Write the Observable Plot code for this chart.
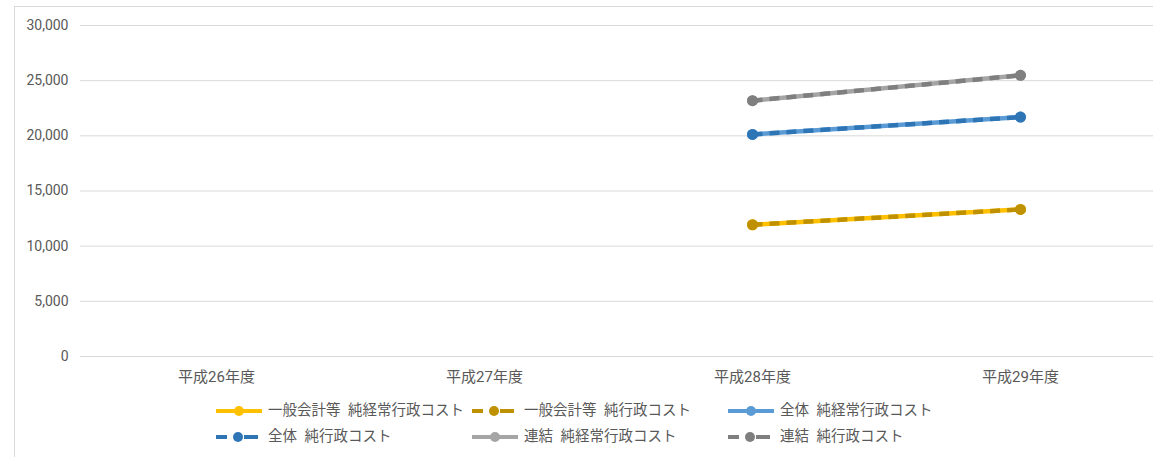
<!DOCTYPE html>
<html>
<head>
<meta charset="utf-8">
<script src="https://cdn.jsdelivr.net/npm/d3@7"></script>
<script src="https://cdn.jsdelivr.net/npm/@observablehq/plot@0.6"></script>
<style>
  html, body { margin: 0; padding: 0; background: #fff; }
  body { width: 1153px; height: 457px; position: relative; overflow: hidden;
         font-family: Roboto, "Noto Sans CJK JP", sans-serif; color: #595959; }
  #frame { position: absolute; left: 14px; top: 6px; right: -2px; bottom: -2px;
           border-left: 1px solid #d9d9d9; border-top: 1px solid #d9d9d9; }
  #chart { position: absolute; left: 0; top: 0; }
  .item { position: absolute; height: 20px; display: flex; align-items: center; font-size: 14.5px; white-space: nowrap; word-spacing: 4px; }
  .item svg { display: block; }
  .item span { position: absolute; left: 52px; top: 0; line-height: 20px; }
</style>
</head>
<body>
<div id="frame"></div>
<div id="chart"></div>
<div id="legend"></div>
<script>
const years = ["平成26年度", "平成27年度", "平成28年度", "平成29年度"];
const seriesNames = [
  "一般会計等 純経常行政コスト",
  "一般会計等 純行政コスト",
  "全体 純経常行政コスト",
  "全体 純行政コスト",
  "連結 純経常行政コスト",
  "連結 純行政コスト"
];
const generalNetOrdinary = [null, null, 11940, 13330];
const generalNet = [null, null, 11940, 13330];
const wholeNetOrdinary = [null, null, 20130, 21700];
const wholeNet = [null, null, 20130, 21700];
const consolidatedNetOrdinary = [null, null, 23190, 25480];
const consolidatedNet = [null, null, 23190, 25480];
const yTicks = [0, 5000, 10000, 15000, 20000, 25000, 30000];

const seriesValues = [generalNetOrdinary, generalNet, wholeNetOrdinary, wholeNet, consolidatedNetOrdinary, consolidatedNet];
const colors = ["#FFC000", "#BF9000", "#5B9BD5", "#2E75B6", "#A5A5A5", "#7F7F7F"];
const dashed = [false, true, false, true, false, true];

const marks = [Plot.ruleY(yTicks, {stroke: "#d9d9d9", strokeWidth: 1})];
seriesValues.forEach((vals, i) => {
  const rows = years.map((y, j) => ({year: y, value: vals[j], series: seriesNames[i]})).filter(d => d.value != null);
  marks.push(Plot.line(rows, {x: "year", y: "value", stroke: colors[i], strokeWidth: 4.5,
    strokeDasharray: dashed[i] ? "10,7" : null, strokeLinecap: "butt"}));
  marks.push(Plot.dot(rows, {x: "year", y: "value", r: 5.5, fill: colors[i], stroke: "none"}));
});
marks.push(Plot.axisY({ticks: yTicks, tickFormat: d3.format(","), tickSize: 0, tickPadding: 12, fontSize: 14}));
marks.push(Plot.axisX({tickSize: 0, tickPadding: 15, fontSize: 15}));

const chart = Plot.plot({
  width: 1153,
  height: 395,
  marginLeft: 80,
  marginRight: -2,
  marginTop: 25,
  marginBottom: 39,
  x: {type: "point", domain: years, padding: 0.5, label: null},
  y: {domain: [0, 30000], label: null},
  style: {fontFamily: 'Roboto, "Noto Sans CJK JP", sans-serif', color: "#595959", background: "transparent", overflow: "visible"},
  marks
});
document.getElementById("chart").appendChild(chart);

// Legend
const legend = document.getElementById("legend");
const colX = [216, 472, 728];
const rowY = [401, 427];
seriesNames.forEach((name, i) => {
  const item = document.createElement("div");
  item.className = "item";
  item.style.left = colX[i % 3] + "px";
  item.style.top = rowY[Math.floor(i / 3)] + "px";
  const svg = d3.create("svg").attr("width", 46).attr("height", 20);
  if (dashed[i]) {
    svg.append("line").attr("x1", 0).attr("x2", 11).attr("y1", 10).attr("y2", 10).attr("stroke", colors[i]).attr("stroke-width", 4);
    svg.append("line").attr("x1", 28).attr("x2", 42).attr("y1", 10).attr("y2", 10).attr("stroke", colors[i]).attr("stroke-width", 4);
    svg.append("circle").attr("cx", 22).attr("cy", 10).attr("r", 5).attr("fill", colors[i]);
  } else {
    svg.append("line").attr("x1", 0).attr("x2", 46).attr("y1", 10).attr("y2", 10).attr("stroke", colors[i]).attr("stroke-width", 4);
    svg.append("circle").attr("cx", 23).attr("cy", 10).attr("r", 5).attr("fill", colors[i]);
  }
  item.appendChild(svg.node());
  const span = document.createElement("span");
  span.textContent = name;
  item.appendChild(span);
  legend.appendChild(item);
});
</script>
</body>
</html>
